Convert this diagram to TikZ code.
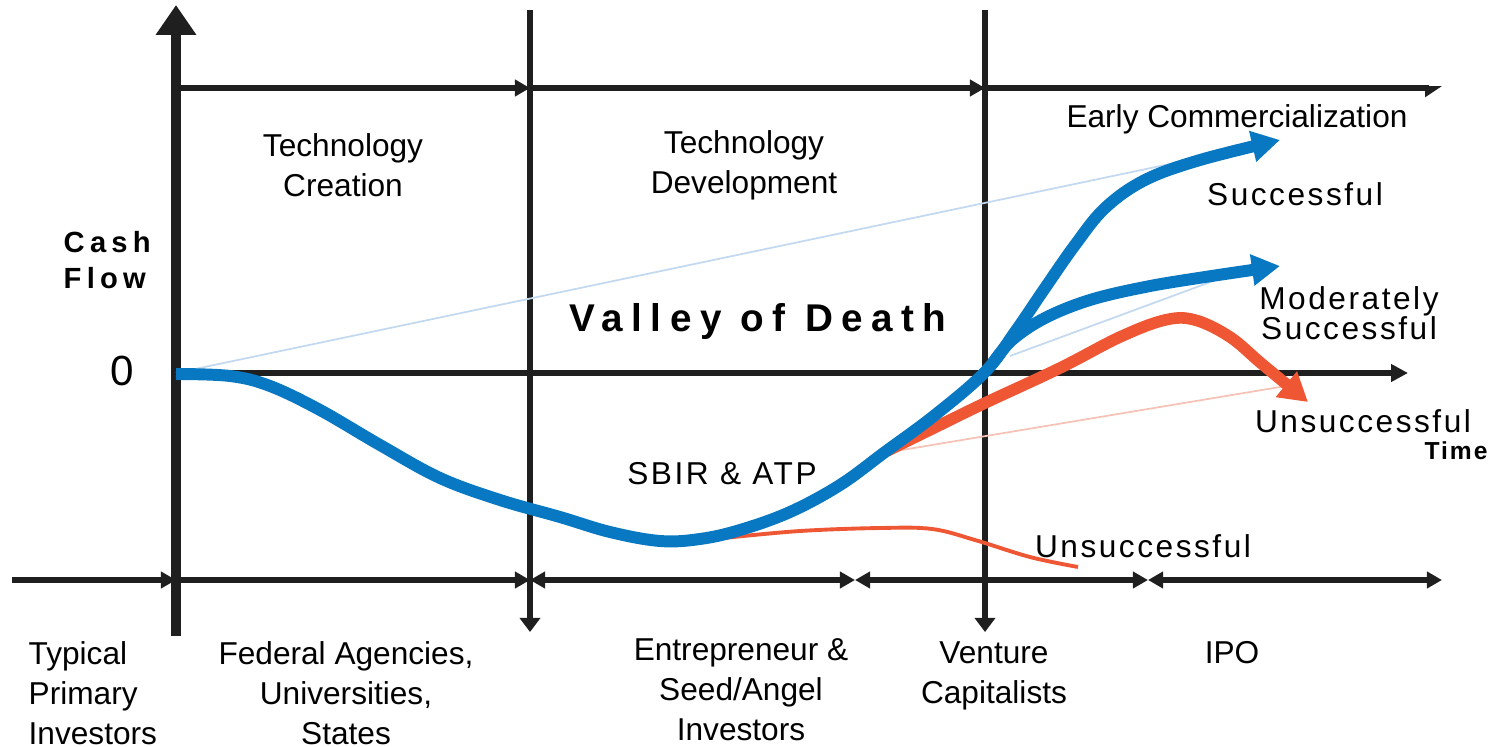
\documentclass[tikz,border=0pt]{standalone}
\usepackage{fontspec}
\setmainfont{Liberation Sans}
\newfontfamily\spacedfont[LetterSpace=8]{Liberation Sans}
\newfontfamily\widefont[LetterSpace=18]{Liberation Sans}
\newfontfamily\widerfont[LetterSpace=22]{Liberation Sans}
\usetikzlibrary{arrows.meta}

\definecolor{flowblue}{RGB}{8,120,194}
\definecolor{flowred}{RGB}{238,86,52}
\definecolor{faintblue}{RGB}{195,217,240}
\definecolor{faintred}{RGB}{246,196,182}

\begin{document}
\begin{tikzpicture}[x=0.1mm,y=-0.1mm,
		axisline/.style={line width=1.7pt, draw=black!88},
		smalltip/.style={-{Triangle[length=4.3pt,width=4.6pt]}},
		bothtips/.style={{Triangle[length=4.3pt,width=4.6pt]}-{Triangle[length=4.3pt,width=4.6pt]}},
		downtip/.style={-{Triangle[length=4pt,width=5.7pt]}},
		bluecurve/.style={line width=3.4pt, draw=flowblue, -{Triangle[length=8pt,width=8.5pt]}},
		redcurve/.style={line width=3.3pt, draw=flowred, -{Triangle[length=8pt,width=9pt]}},
		faint/.style={line width=0.5pt},
		stage/.style={font=\fontsize{9}{11.3}\selectfont, align=center, inner sep=0pt},
		outcome/.style={font=\spacedfont\fontsize{9}{8.5}\selectfont, align=center, inner sep=0pt}
	]
	\useasboundingbox (0,0) rectangle (1491,747);
	\def\ax{176}
	\def\bx{530}
	\def\cx{985}
	\def\topy{88}
	\def\zeroy{373}
	\def\boty{580}

	% Axis points
	\coordinate (origin) at (\ax,\zeroy);
	\coordinate (cashtop) at (\ax,5);
	\coordinate (cashfoot) at (\ax,636);
	\coordinate (timeend) at (1408,\zeroy);

	% Left axis and time axis
	\draw[line width=3.1pt, draw=black!88, -{Triangle[length=8.5pt,width=11pt]}] (cashfoot) -- (cashtop);
	\draw[axisline, -{Triangle[length=4.8pt,width=4.8pt]}] (origin) -- (timeend);

	% Stage dividers
	\foreach \x in {\bx,\cx} {
			\draw[axisline, downtip] (\x,10) -- (\x,632);
		}

	% Top line
	\draw[axisline, smalltip] (\ax,\topy) -- (\bx,\topy);
	\draw[axisline, smalltip] (\bx,\topy) -- (\cx,\topy);
	\draw[axisline, -{Triangle[length=4pt,width=5pt,right]}] (\cx,\topy) -- (1442,\topy);

	% Investor line
	\draw[axisline, smalltip] (12,\boty) -- (\ax,\boty);
	\draw[axisline, smalltip] (\ax,\boty) -- (\bx,\boty);
	\draw[axisline, bothtips] (\bx,\boty) -- (855,\boty);
	\draw[axisline, bothtips] (855,\boty) -- (1148,\boty);
	\draw[axisline, bothtips] (1148,\boty) -- (1442,\boty);

	% Faint guide lines
	\draw[faint, faintblue] (origin) -- (1265,144);
	\draw[faint, faintblue] (1010,356) -- (1262,263);
	\draw[faint, faintred] (890,452) -- (1298,384);

	% Curves
	\draw[line width=1.1pt, flowred] plot[smooth, tension=0.6] coordinates {(724,538) (800,531) (880,528) (932,529) (975,540) (1030,557) (1078,567)};
	\draw[redcurve] plot[smooth, tension=0.6] coordinates {(887,451) (940,425) (985,403) (1060,368) (1120,337) (1165,320) (1195,320) (1230,337) (1262,364) (1308,402)};
	\draw[bluecurve] plot[smooth, tension=0.6] coordinates {(992,364) (1012,340) (1045,318) (1090,300) (1145,287) (1205,277) (1280,266)};
	\draw[bluecurve] plot[smooth, tension=0.6] coordinates {(176,374) (230,376) (270,386) (320,410) (380,445) (440,478) (500,500) (560,517) (610,532) (660,541) (700,539) (740,530) (790,512) (840,485) (885,452) (935,415) (985,372) (1015,332) (1045,288) (1075,245) (1105,208) (1145,180) (1200,160) (1280,140)};

	% Stage labels
	\node[stage] (creation) at (343,165) {Technology\\Creation};
	\node[stage] (development) at (744,165) {Technology\\Development};
	\node[stage] (earlycomm) at (1237,119) {Early Commercialization};

	% Outcome labels
	\node[outcome] (success) at (1295,194) {Successful};
	\node[outcome] (moderate) at (1349,313) {Moderately\\Successful};
	\node[outcome] (fail) at (1363,421) {Unsuccessful};
	\node[outcome] (earlyfail) at (1143,546) {Unsuccessful};
	\node[outcome] (sbir) at (722,474) {SBIR \& ATP};
	\node[inner sep=0pt, font=\spacedfont\bfseries\fontsize{7}{8}\selectfont] (timelabel) at (1456,451) {Time};

	% Cash flow axis labels
	\node[inner sep=0pt, anchor=west, align=left, font=\widefont\bfseries\fontsize{8.3}{10}\selectfont] (cashlabel) at (63,260) {Cash\\Flow};
	\node[inner sep=0pt, font=\fontsize{12}{14}\selectfont] (zerolabel) at (122,371) {0};
	\node[inner sep=0pt, font=\widerfont\bfseries\fontsize{11}{13}\selectfont] (valley) at (758,322) {Valley of Death};

	% Investor labels
	\node[stage, anchor=north west, align=left] (typical) at (28,641) {Typical\\Primary\\Investors};
	\node[stage, anchor=north] (federal) at (346,641) {Federal Agencies,\\Universities,\\States};
	\node[stage, anchor=north] (angel) at (741,638) {Entrepreneur \&\\Seed/Angel\\Investors};
	\node[stage, anchor=north] (venture) at (994,641) {Venture\\Capitalists};
	\node[stage, anchor=north] (ipo) at (1232,641) {IPO};

\end{tikzpicture}
\end{document}
